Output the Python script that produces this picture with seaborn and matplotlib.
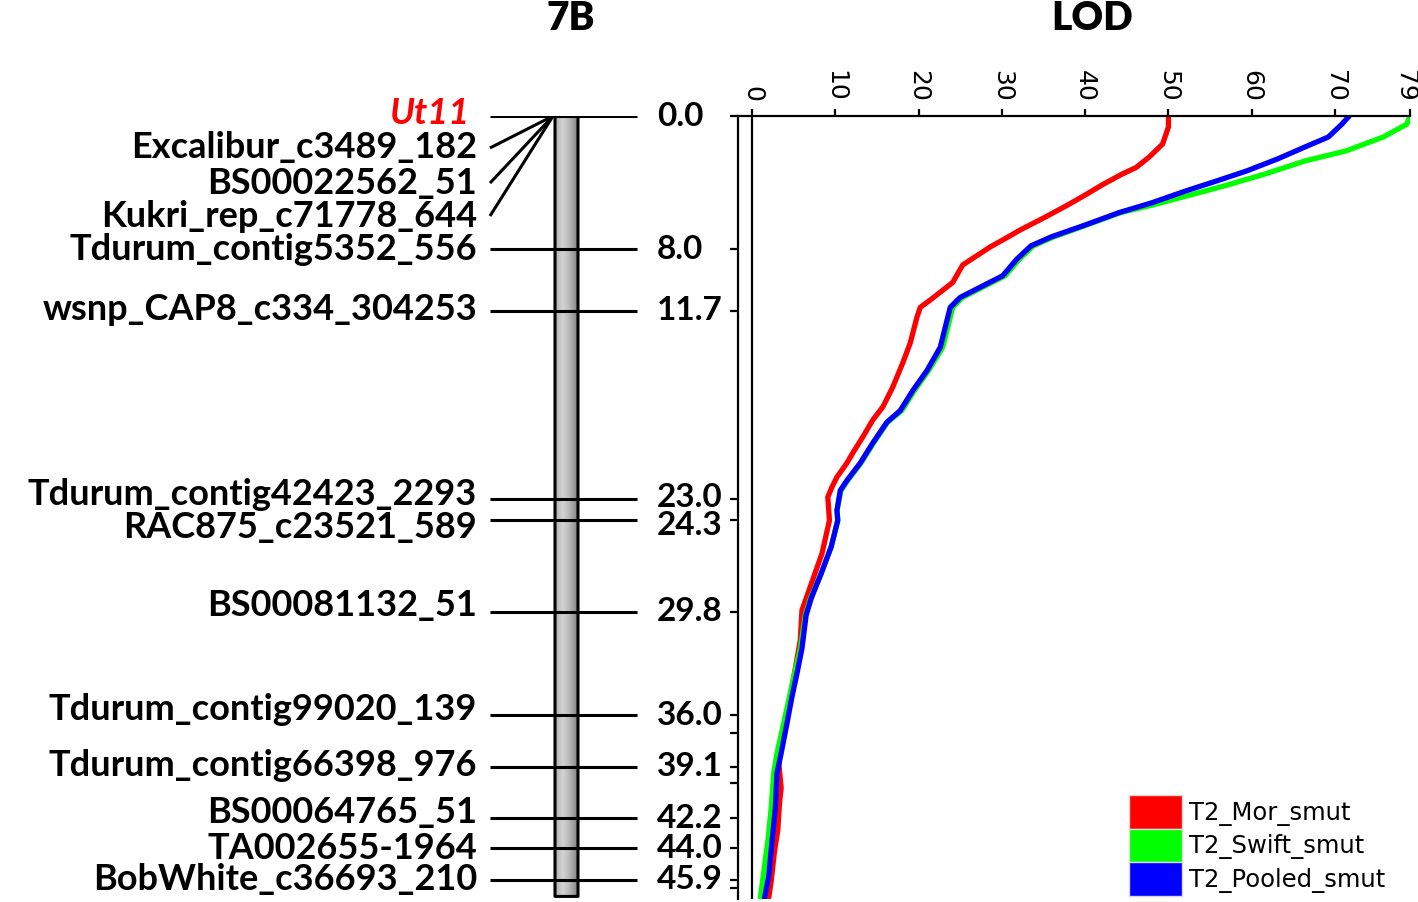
import numpy as np
import pandas as pd
import matplotlib
matplotlib.use("Agg")
import matplotlib.pyplot as plt
import matplotlib.transforms as mtransforms
import seaborn as sns
from matplotlib.patches import FancyBboxPatch, Patch

# ---------------- data ----------------
marker_names = ["Ut11", "Excalibur_c3489_182", "BS00022562_51", "Kukri_rep_c71778_644",
                "Tdurum_contig5352_556", "wsnp_CAP8_c334_304253", "Tdurum_contig42423_2293",
                "RAC875_c23521_589", "BS00081132_51", "Tdurum_contig99020_139",
                "Tdurum_contig66398_976", "BS00064765_51", "TA002655-1964", "BobWhite_c36693_210"]
marker_cM = [0.0, 0.0, 0.0, 0.0, 8.0, 11.7, 23.0, 24.3, 29.8, 36.0, 39.1, 42.2, 44.0, 45.9]
# label placement (cM) for the left-hand names (fanned where markers coincide)
label_cM = [-0.18, 1.92, 4.03, 6.01, 8.05, 11.6, 22.75, 24.75, 29.4, 35.65, 39.05, 41.85, 44.0, 45.9]
pos_labels = ["0.0", "8.0", "11.7", "23.0", "24.3", "29.8", "36.0", "39.1", "42.2", "44.0", "45.9"]
pos_label_cM = [0.0, 8.0, 11.7, 22.95, 24.6, 29.8, 36.0, 39.1, 42.2, 44.0, 45.9]
extra_ticks_cM = [37.1, 40.1, 46.4]
chrom_len = 46.7

lod_ticks = [0, 10, 20, 30, 40, 50, 60, 70, 79]

mor_cM = [0.0, 0.66, 1.68, 2.46, 3.1, 3.5, 4.15, 4.75, 5.35, 6.13, 6.85, 7.45, 7.87, 8.95,
          10.0, 11.06, 11.5, 12.1, 13.64, 14.84, 16.29, 17.49, 18.27, 19.29, 20.25, 20.85,
          21.7, 22.3, 22.9, 24.3, 26.3, 28.0, 29.7, 31.5, 33.2, 34.9, 36.7, 38.8, 40.4,
          41.3, 42.9, 44.2, 46.0, 47.0]
mor_lod = [50.0, 50.0, 49.3, 47.7, 46.1, 44.4, 42.0, 40.0, 37.9, 35.0, 32.2, 30.1, 28.6, 25.3,
           24.1, 21.4, 20.2, 19.8, 19.0, 18.1, 16.9, 15.7, 14.5, 13.3, 12.1, 11.4,
           10.2, 9.6, 9.1, 9.3, 8.4, 7.2, 6.0, 5.8, 5.2, 4.6, 3.8, 3.2, 3.5,
           3.3, 3.1, 2.7, 2.3, 2.0]

pooled_cM = [0.0, 0.5, 1.26, 1.86, 2.58, 3.3, 3.9, 4.5, 5.2, 5.8, 6.55, 7.27, 7.8, 8.6, 9.6,
             10.9, 11.5, 13.9, 15.3, 16.5, 17.7, 18.4, 19.65, 20.85, 21.9, 22.5, 23.7,
             24.3, 25.9, 27.5, 29.0, 30.0, 32.0, 33.5, 34.9, 36.5, 38.3, 39.5, 41.6, 43.6,
             45.7, 47.0]
pooled_lod = [71.7, 70.8, 69.2, 66.4, 63.1, 59.4, 55.8, 52.1, 48.1, 44.1, 40.0, 35.9, 33.5,
              31.8, 30.1, 25.0, 23.8, 22.6, 21.0, 19.3, 17.8, 16.2, 14.5, 13.0, 11.4, 10.6,
              10.2, 10.3, 9.5, 8.3, 7.1, 6.5, 6.0, 5.4, 4.8, 4.2, 3.5, 3.0, 2.8, 2.4,
              2.0, 1.5]

swift_cM = [0.0, 0.5, 1.26, 2.1, 2.7, 3.5, 4.2, 4.75, 5.35, 5.8, 6.55, 7.27, 7.8, 8.6, 9.6,
            10.9, 11.5, 13.9, 15.3, 16.5, 17.7, 18.4, 19.65, 20.85, 21.9, 22.5, 23.7,
            24.3, 25.9, 27.5, 29.0, 30.0, 32.0, 33.5, 34.9, 36.5, 38.3, 39.5, 41.6, 43.6,
            44.7, 47.0]
swift_lod = [79.0, 78.6, 75.8, 71.3, 66.4, 61.5, 56.7, 52.6, 48.1, 44.3, 40.2, 36.2, 33.8,
             32.1, 30.4, 25.3, 24.1, 22.9, 21.2, 19.5, 18.0, 16.3, 14.6, 13.1, 11.5, 10.7,
             10.2, 10.3, 9.5, 8.3, 7.0, 6.4, 5.8, 5.1, 4.5, 3.8, 3.0, 2.6, 2.3, 1.9,
             1.6, 1.0]

traits = ["T2_Mor_smut", "T2_Swift_smut", "T2_Pooled_smut"]
colors = ["#ff0000", "#00ff00", "#0000ff"]

# ---------------- layout constants (pixels) ----------------
W, H = 1418, 902
Y_TOP, Y_BOT = 116, 899
PX_PER_CM = 16.64
CM_BOT = (Y_BOT - Y_TOP) / PX_PER_CM
LABEL_FS = 26
POS_FS = 24

sns.set_style("white")
plt.rcParams["font.family"] = ["Lato", "DejaVu Sans"]
plt.rcParams["text.color"] = "black"
plt.rcParams["xtick.color"] = "black"
plt.rcParams["ytick.color"] = "black"
plt.rcParams["axes.labelcolor"] = "black"

fig = plt.figure(figsize=(W / 100, H / 100), dpi=100)

# ---------------- map panel ----------------
axm = fig.add_axes([0, 1 - Y_BOT / H, 738 / W, (Y_BOT - Y_TOP) / H])
axm.set_xlim(0, 738)
axm.set_ylim(CM_BOT, 0)
axm.axis("off")

cx0, cx1 = 555, 578
grad = np.linspace(0, 1, 64)
shade = 0.82 - 0.55 * np.abs(grad - 0.35) ** 1.3
img = np.tile(shade, (4, 1))
im = axm.imshow(img, extent=(cx0, cx1, chrom_len + 0.2, -0.3), cmap="gray", vmin=0, vmax=1,
                aspect="auto", zorder=1, interpolation="bilinear")
chrom = FancyBboxPatch((cx0, -0.3), cx1 - cx0, chrom_len + 0.5,
                       boxstyle="round,pad=0,rounding_size=0.4",
                       mutation_aspect=1 / 16.64,
                       facecolor="none", edgecolor="black", linewidth=2.2, zorder=2)
axm.add_patch(chrom)
im.set_clip_path(chrom)
axm.set_xlim(0, 738)
axm.set_ylim(CM_BOT, 0)

for name, cm, lcm in zip(marker_names, marker_cM, label_cM):
    color = "red" if name == "Ut11" else "black"
    style = "italic" if name == "Ut11" else "normal"
    xr = 470 if name == "Ut11" else 477
    axm.text(xr, lcm, name, ha="right", va="center", fontsize=LABEL_FS, fontweight="bold",
             color=color, style=style, zorder=4)
    if abs(cm - lcm) > 1.0:
        axm.plot([490, 553], [lcm, cm], color="black", lw=2.2, zorder=3,
                 solid_capstyle="butt")
    else:
        axm.plot([490, 637], [cm, cm], color="black", lw=2.2, zorder=3,
                 solid_capstyle="butt")

for lab, cm in zip(pos_labels, pos_label_cM):
    axm.text(657, cm, lab, ha="left", va="center", fontsize=POS_FS, fontweight="bold",
             color="black", zorder=4)

fig.text(571 / W, 1 - 18 / H, "7B", ha="center", va="center", fontsize=28,
         fontweight="heavy", color="black")
fig.text(1092 / W, 1 - 18 / H, "LOD", ha="center", va="center", fontsize=28,
         fontweight="heavy", color="black")

# ---------------- LOD panel ----------------
ax = fig.add_axes([738 / W, 1 - Y_BOT / H, (1410 - 738) / W, (Y_BOT - Y_TOP) / H])

df = pd.concat([
    pd.DataFrame({"cM": mor_cM, "LOD": mor_lod, "trait": traits[0]}),
    pd.DataFrame({"cM": swift_cM, "LOD": swift_lod, "trait": traits[1]}),
    pd.DataFrame({"cM": pooled_cM, "LOD": pooled_lod, "trait": traits[2]}),
], ignore_index=True)

sns.lineplot(data=df, x="LOD", y="cM", hue="trait", hue_order=traits, palette=colors,
             sort=False, estimator=None, linewidth=3.8, legend=False, ax=ax)

ax.set_xlim(-1.68, 79)
ax.set_ylim(CM_BOT, 0)
ax.set_xlabel("")
ax.set_ylabel("")
for s in ["right", "bottom"]:
    ax.spines[s].set_visible(False)
for s in ["top", "left"]:
    ax.spines[s].set_linewidth(1.6)
    ax.spines[s].set_color("black")
ax.axvline(0, color="black", lw=1.6)

ax.xaxis.tick_top()
ax.set_xticks(lod_ticks)
ax.set_xticklabels([str(t) for t in lod_ticks], rotation=-90, fontsize=18,
                   family="DejaVu Sans", color="black")
ax.tick_params(axis="x", direction="out", length=5, width=1.6, pad=5, top=True, bottom=False)
# keep the last tick label ("79") inside the figure edge
last = ax.get_xticklabels()[-1]
last.set_transform(last.get_transform() +
                   mtransforms.ScaledTranslation(-5 / 100, 0, fig.dpi_scale_trans))

yt = sorted(set(marker_cM) | set(extra_ticks_cM))
ax.set_yticks(yt)
ax.set_yticklabels([])
ax.tick_params(axis="y", direction="out", length=6, width=1.6, left=True)

handles = [Patch(facecolor=c, edgecolor="#d8d8d8", linewidth=1) for c in colors]
fig.legend(handles, traits, loc="lower left", bbox_to_anchor=(1129 / W, 1 - 896 / H),
           frameon=False, handlelength=2.2, handleheight=1.75, labelspacing=0.0,
           handletextpad=0.25, borderpad=0, borderaxespad=0,
           prop={"family": "DejaVu Sans", "size": 17.5}, labelcolor="black")

fig.savefig("out.png", dpi=100)
